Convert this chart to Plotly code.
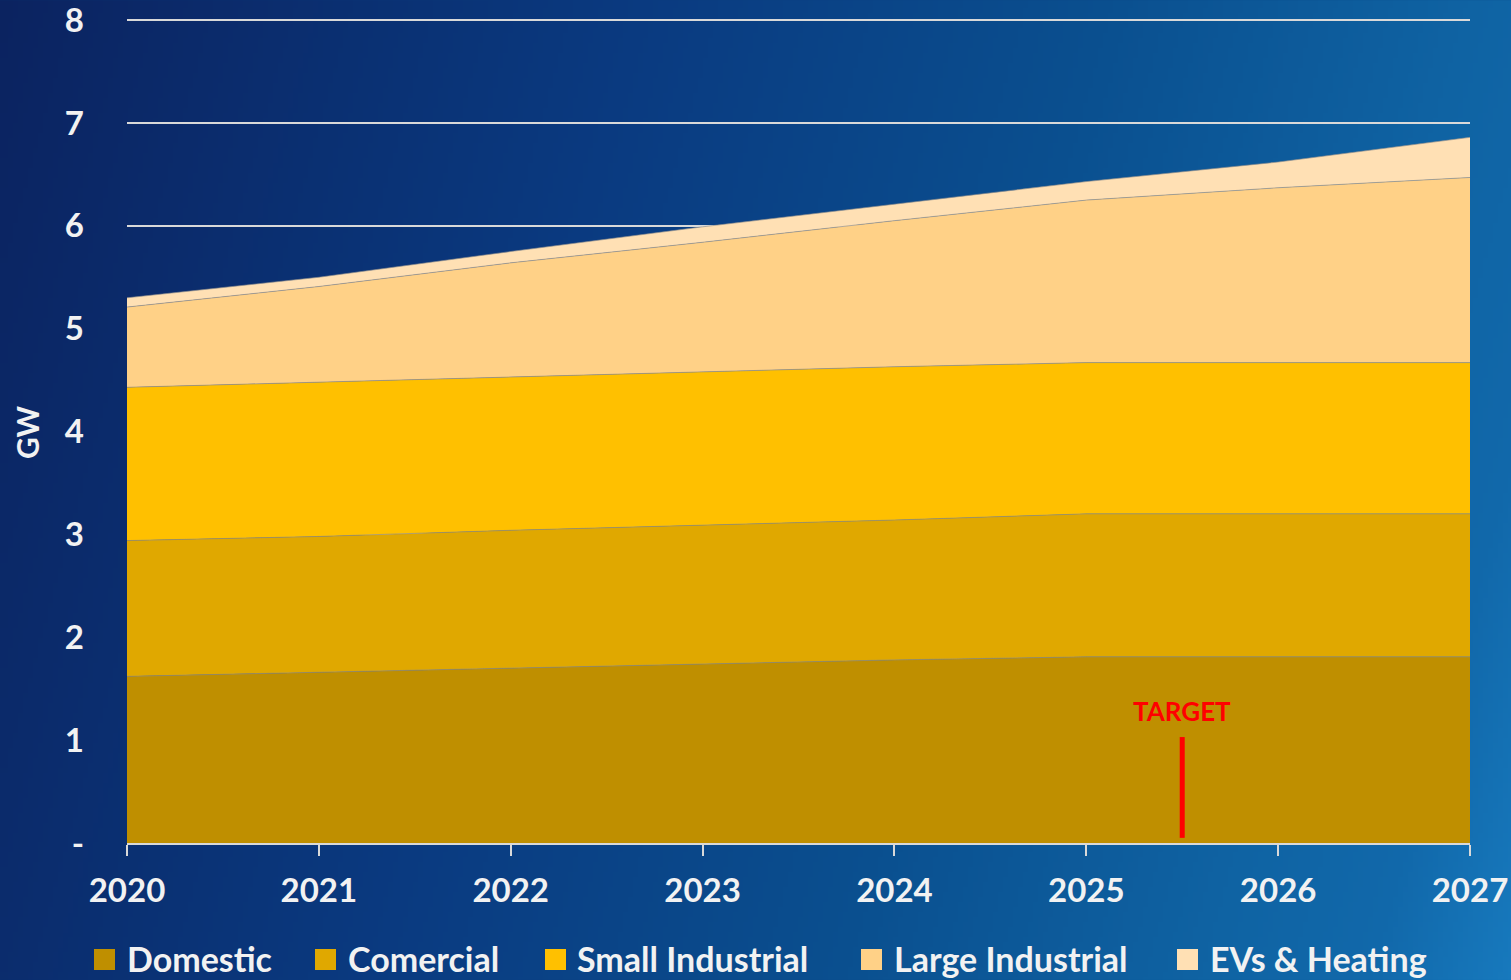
import base64
import struct
import zlib

import plotly.graph_objects as go

# ---- data -------------------------------------------------------------
years = [2020, 2021, 2022, 2023, 2024, 2025, 2026, 2027]
domestic = [1.62, 1.66, 1.70, 1.74, 1.78, 1.81, 1.81, 1.81]
commercial = [1.32, 1.32, 1.34, 1.35, 1.36, 1.39, 1.39, 1.39]
small_industrial = [1.49, 1.50, 1.49, 1.49, 1.49, 1.47, 1.47, 1.47]
large_industrial = [0.78, 0.93, 1.11, 1.26, 1.42, 1.58, 1.70, 1.80]
evs_heating = [0.09, 0.09, 0.11, 0.15, 0.16, 0.18, 0.25, 0.39]

series_names = ["Domestic", "Comercial", "Small Industrial", "Large Industrial", "EVs & Heating"]
series_values = [domestic, commercial, small_industrial, large_industrial, evs_heating]
series_colors = ["#BF8F00", "#E0A800", "#FFC000", "#FFD187", "#FFE0B4"]

y_tick_vals = [0, 1, 2, 3, 4, 5, 6, 7, 8]
y_tick_text = ["-", "1", "2", "3", "4", "5", "6", "7", "8"]

target_year = 2025.5
target_low, target_high = 0.05, 1.03
target_label_y = 1.28

# ---- layout geometry --------------------------------------------------
W, H = 1511, 980
Y_TOP = 8.03                      # a touch above 8 so the top gridline is kept
ML, MR, MB = 127, 41, 137
PW = W - ML - MR
PH = 823 * Y_TOP / 8
MT = H - MB - PH

FONT = "Lato"
TEXT = "#F2F2F2"
GRID = "#D9D9D9"


def px_x(p):
    return (p - ML) / PW


def px_y(p):
    return (H - MB - p) / PH


# ---- gradient background as a small PNG --------------------------------
stops = [
    (0.00, (11, 35, 96)),
    (0.36, (10, 58, 128)),
    (0.62, (10, 79, 143)),
    (0.83, (15, 99, 163)),
    (0.92, (17, 104, 170)),
    (1.00, (23, 121, 189)),
]


def grad(t):
    t = max(0.0, min(1.0, t))
    for (t0, c0), (t1, c1) in zip(stops, stops[1:]):
        if t <= t1:
            f = (t - t0) / (t1 - t0)
            return tuple(int(round(a + (b - a) * f)) for a, b in zip(c0, c1))
    return stops[-1][1]


def make_png(w, h):
    rows = []
    for j in range(h):
        row = bytearray([0])
        for i in range(w):
            t = 0.85 * i / (w - 1) + 0.15 * j / (h - 1)
            row.extend(grad(t))
        rows.append(bytes(row))
    raw = b"".join(rows)

    def chunk(tag, data):
        c = struct.pack(">I", len(data)) + tag + data
        return c + struct.pack(">I", zlib.crc32(tag + data) & 0xFFFFFFFF)

    ihdr = struct.pack(">IIBBBBB", w, h, 8, 2, 0, 0, 0)
    return (b"\x89PNG\r\n\x1a\n" + chunk(b"IHDR", ihdr)
            + chunk(b"IDAT", zlib.compress(raw, 9)) + chunk(b"IEND", b""))


bg_uri = "data:image/png;base64," + base64.b64encode(make_png(302, 196)).decode()

# ---- figure -----------------------------------------------------------
fig = go.Figure()
for name, vals, col in zip(series_names, series_values, series_colors):
    fig.add_trace(go.Scatter(
        x=years, y=vals, name=name, mode="lines", stackgroup="load",
        line=dict(color="rgba(140,140,140,0.8)", width=0.8),
        fillcolor=col, showlegend=False, hoverinfo="x+y+name",
    ))

# target marker
fig.add_shape(type="line", xref="x", yref="y", x0=target_year, x1=target_year,
              y0=target_low, y1=target_high, line=dict(color="#FF0000", width=5))
fig.add_annotation(x=target_year, y=target_label_y, xref="x", yref="y", text="TARGET",
                   showarrow=False, xanchor="center", yanchor="middle",
                   font=dict(family=FONT, size=26, color="#FF0000", weight="bold"))

# y-axis title
fig.add_annotation(x=px_x(27), y=px_y(432), xref="paper", yref="paper", text="GW",
                   showarrow=False, textangle=-90, xanchor="center", yanchor="middle",
                   font=dict(family=FONT, size=30, color=TEXT, weight="bold"))

# legend row: colour squares with labels
swatch_x = [94, 315, 545, 861, 1177]
label_x = [125, 346, 575, 892, 1208]
for name, col, sx, lx in zip(series_names, series_colors, swatch_x, label_x):
    fig.add_shape(type="rect", xref="paper", yref="paper",
                  x0=px_x(sx), x1=px_x(sx + 21), y0=px_y(970), y1=px_y(949),
                  fillcolor=col, line=dict(width=0))
    fig.add_annotation(x=px_x(lx), y=px_y(959), xref="paper", yref="paper", text=name,
                       showarrow=False, xanchor="left", yanchor="middle",
                       font=dict(family=FONT, size=34, color=TEXT, weight="bold"))

fig.update_layout(
    width=W, height=H, autosize=False,
    margin=dict(l=ML, r=MR, t=MT, b=MB, autoexpand=False),
    paper_bgcolor="#0A4080",
    plot_bgcolor="rgba(0,0,0,0)",
    showlegend=False,
    images=[dict(source=bg_uri, xref="paper", yref="paper",
                 x=-ML / PW, y=1 + MT / PH, sizex=W / PW, sizey=H / PH,
                 xanchor="left", yanchor="top", sizing="stretch", layer="below")],
    xaxis=dict(
        range=[2020, 2027], tickvals=years, ticktext=[str(y) for y in years],
        showgrid=False, zeroline=False, automargin=False,
        showline=True, linecolor=GRID, linewidth=2,
        ticks="outside", ticklen=11, tickwidth=2, tickcolor=GRID,
        ticklabelstandoff=6, ticklabeloverflow="allow",
        tickfont=dict(family=FONT, size=33, color=TEXT, weight="bold"),
        fixedrange=True,
    ),
    yaxis=dict(
        range=[0, Y_TOP], tickvals=y_tick_vals, ticktext=y_tick_text,
        showgrid=True, gridcolor=GRID, gridwidth=2, zeroline=False, automargin=False,
        showline=False, ticks="", ticklabelstandoff=42, ticklabeloverflow="allow",
        tickfont=dict(family=FONT, size=33, color=TEXT, weight="bold"),
        fixedrange=True,
    ),
)

fig.write_html("out.html", config={"displayModeBar": False})
